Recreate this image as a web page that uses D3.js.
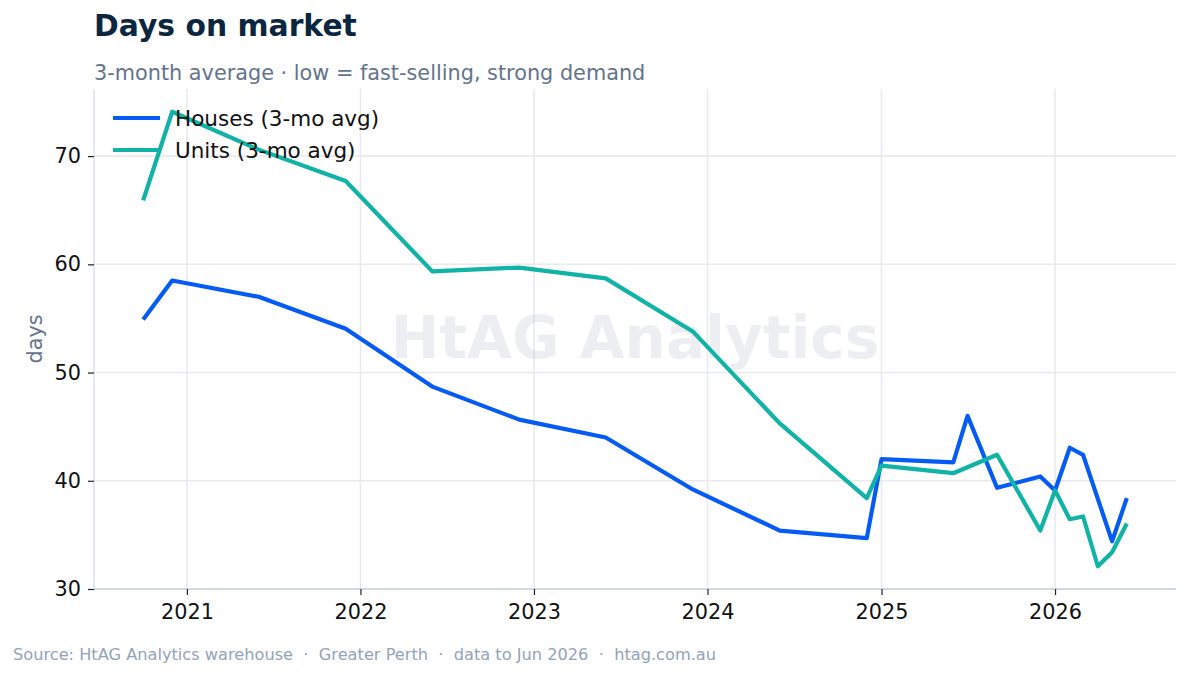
<!DOCTYPE html>
<html lang="en">
<head>
  <meta charset="UTF-8">
  <title>Days on market</title>
  <script src="https://d3js.org/d3.v7.min.js"></script>
  <style>
    body {
      margin: 0;
      background: #fff;
    }
    svg {
      display: block;
      font-family: "DejaVu Sans", sans-serif;
    }
  </style>
</head>
<body>
  <svg width="1189" height="676"></svg>

  <script>
    // months (first of month) and 3-month averages
    const unitMonths = ["2020-10", "2020-12", "2021-06", "2021-12", "2022-06", "2022-12", "2023-06",
      "2023-12", "2024-06", "2024-12", "2025-01", "2025-06", "2025-09", "2025-12", "2026-01",
      "2026-02", "2026-03", "2026-04", "2026-05", "2026-06"];
    const unitValues = [65.9, 74.1, 70.6, 67.7, 59.35, 59.7, 58.7, 53.8, 45.3, 38.4, 41.4, 40.7,
      42.4, 35.4, 39.1, 36.45, 36.7, 32.1, 33.4, 36.05];

    const houseMonths = ["2020-10", "2020-12", "2021-06", "2021-12", "2022-06", "2022-12", "2023-06",
      "2023-12", "2024-06", "2024-12", "2025-01", "2025-06", "2025-07", "2025-09", "2025-12",
      "2026-01", "2026-02", "2026-03", "2026-05", "2026-06"];
    const houseValues = [54.9, 58.5, 57.0, 54.05, 48.7, 45.65, 44.0, 39.2, 35.4, 34.7, 42.0, 41.7,
      46.0, 39.35, 40.4, 39.1, 43.05, 42.4, 34.4, 38.4];

    const seriesNames = ["Houses (3-mo avg)", "Units (3-mo avg)"];
    const seriesColors = ["#065bf4", "#12b3a7"];
    const yTicks = [30, 40, 50, 60, 70];

    const parse = d3.timeParse("%Y-%m");
    const series = [
      { name: seriesNames[0], color: seriesColors[0],
        values: houseMonths.map((m, i) => ({ date: parse(m), value: houseValues[i] })) },
      { name: seriesNames[1], color: seriesColors[1],
        values: unitMonths.map((m, i) => ({ date: parse(m), value: unitValues[i] })) }
    ];

    const plot = { left: 94, right: 1176, top: 89, bottom: 589 };
    const svg = d3.select("svg");

    // 5% padding each side, like the original
    const allPts = series.flatMap(s => s.values);
    const [t0, t1] = d3.extent(allPts, d => d.date);
    const tPad = (t1 - t0) * 0.05;
    const [v0, v1] = d3.extent(allPts, d => d.value);
    const vPad = (v1 - v0) * 0.05;

    const x = d3.scaleTime()
      .domain([new Date(+t0 - tPad), new Date(+t1 + tPad)])
      .range([plot.left, plot.right]);
    const y = d3.scaleLinear()
      .domain([v0 - vPad, v1 + vPad])
      .range([plot.bottom, plot.top]);

    const xTicks = x.ticks(d3.timeYear.every(1));

    // grid
    const grid = svg.append("g").attr("stroke", "#e8eaee").attr("stroke-width", 1.6);
    grid.selectAll(".vg").data(xTicks).join("line")
      .attr("x1", d => x(d)).attr("x2", d => x(d))
      .attr("y1", plot.top).attr("y2", plot.bottom);
    grid.selectAll(".hg").data(yTicks).join("line")
      .attr("x1", plot.left).attr("x2", plot.right)
      .attr("y1", d => y(d)).attr("y2", d => y(d));

    // watermark
    svg.append("text")
      .attr("x", (plot.left + plot.right) / 2)
      .attr("y", 358)
      .attr("text-anchor", "middle")
      .attr("font-size", 58)
      .attr("font-weight", "bold")
      .attr("fill", "#94a3b8")
      .attr("fill-opacity", 0.18)
      .text("HtAG Analytics");

    // spines
    svg.append("line")
      .attr("x1", plot.left).attr("x2", plot.left)
      .attr("y1", plot.top).attr("y2", plot.bottom)
      .attr("stroke", "#dfe3e8").attr("stroke-width", 1.6);
    svg.append("line")
      .attr("x1", plot.left).attr("x2", plot.right)
      .attr("y1", plot.bottom).attr("y2", plot.bottom)
      .attr("stroke", "#cfd8e3").attr("stroke-width", 2);

    // axes
    const xAxis = svg.append("g")
      .attr("transform", `translate(0,${plot.bottom})`)
      .call(d3.axisBottom(x).tickValues(xTicks).tickFormat(d3.timeFormat("%Y"))
        .tickSize(6).tickPadding(9));
    const yAxis = svg.append("g")
      .attr("transform", `translate(${plot.left},0)`)
      .call(d3.axisLeft(y).tickValues(yTicks).tickSize(6).tickPadding(7));

    [xAxis, yAxis].forEach(a => {
      a.select(".domain").remove();
      a.selectAll(".tick line").attr("stroke", "#222").attr("stroke-width", 1.2);
      a.selectAll(".tick text")
        .attr("font-family", "DejaVu Sans, sans-serif")
        .attr("font-size", 20.8)
        .attr("fill", "#111");
    });

    svg.append("text")
      .attr("transform", `translate(42,${(plot.top + plot.bottom) / 2}) rotate(-90)`)
      .attr("text-anchor", "middle")
      .attr("font-size", 20.8)
      .attr("fill", "#64748b")
      .text("days");

    // lines
    const line = d3.line()
      .x(d => x(d.date))
      .y(d => y(d.value));

    svg.selectAll(".series").data(series).join("path")
      .attr("class", "series")
      .attr("fill", "none")
      .attr("stroke", d => d.color)
      .attr("stroke-width", 4.2)
      .attr("stroke-linejoin", "round")
      .attr("d", d => line(d.values));

    // legend
    const legend = svg.append("g");
    series.forEach((s, i) => {
      const ly = 118 + i * 32;
      legend.append("line")
        .attr("x1", 113).attr("x2", 160)
        .attr("y1", ly).attr("y2", ly)
        .attr("stroke", s.color).attr("stroke-width", 4.2);
      legend.append("text")
        .attr("x", 175).attr("y", ly + 7.5)
        .attr("font-size", 21.5)
        .attr("fill", "#111")
        .text(s.name);
    });

    // titles
    svg.append("text")
      .attr("x", 94).attr("y", 36)
      .attr("font-size", 29.8)
      .attr("font-weight", "bold")
      .attr("fill", "#0d2640")
      .text("Days on market");
    svg.append("text")
      .attr("x", 94).attr("y", 80)
      .attr("font-size", 20.8)
      .attr("fill", "#64748b")
      .text("3-month average · low = fast-selling, strong demand");

    svg.append("text")
      .attr("x", 13).attr("y", 660)
      .attr("font-size", 16.2)
      .attr("fill", "#94a3b8")
      .attr("xml:space", "preserve")
      .style("white-space", "pre")
      .text("Source: HtAG Analytics warehouse  ·  Greater Perth  ·  data to Jun 2026  ·  htag.com.au");
  </script>
</body>
</html>
